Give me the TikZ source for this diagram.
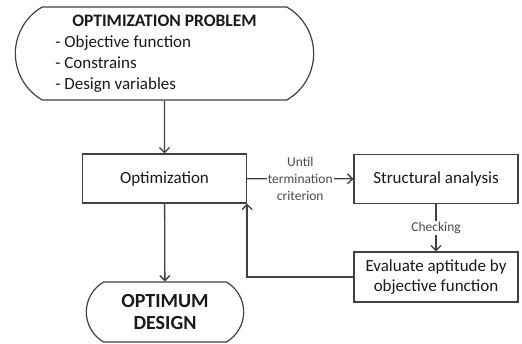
\documentclass[tikz,border=0pt]{standalone}
\usepackage{fontspec}
\setmainfont{Carlito}
\usetikzlibrary{shapes.misc,arrows.meta}
\tikzset{
  block/.style={draw=black!75,line width=1.2pt,minimum width=164pt,minimum height=49pt,
    align=center,text=black!90,font=\fontsize{17}{20.5}\selectfont},
  term/.style={draw=black!75,line width=1.2pt,rounded rectangle,
    rounded rectangle arc length=120,align=center,text=black!90},
  link/.style={draw=black!75,line width=1.3pt,-{Straight Barb[length=5pt,width=10pt]}},
  note/.style={font=\fontsize{13.5}{17}\selectfont,text=black!70,fill=white,
    inner sep=1pt,align=center}
}
\begin{document}
\begin{tikzpicture}[x=1pt,y=-1pt]
		\useasboundingbox (0,0) rectangle (522,343);
		\node[term,minimum width=305pt,minimum height=93pt,font=\fontsize{17}{21}\selectfont] (prob) at (164.5,53.5)
			{\begin{tabular}{@{}l@{}}
			\hspace*{17pt}\textbf{\fontsize{17.5}{21}\selectfont OPTIMIZATION PROBLEM}\hspace*{17pt}\\
			- Objective function\\
			- Constrains\\
			- Design variables
			\end{tabular}};
		\node[block] (opt) at (164.5,178.5) {Optimization};
		\node[block] (struct) at (436,179) {Structural analysis};
		\node[block,minimum height=50pt] (eval) at (436,277) {Evaluate aptitude by\\objective function};
		\node[term,minimum width=164pt,minimum height=60pt,font=\bfseries\fontsize{20}{22}\selectfont] (optd) at (165,312) {OPTIMUM\\DESIGN};
		\draw[link] (prob) -- (opt);
		\draw[link] (opt) -- (optd);
		\draw[link] (opt) -- node[note] {Until\\termination\\criterion} (struct);
		\draw[link] (struct) -- node[note] {Checking} (eval);
		\draw[link] (eval.west) -| (opt.south east);
		\end{tikzpicture}
\end{document}
